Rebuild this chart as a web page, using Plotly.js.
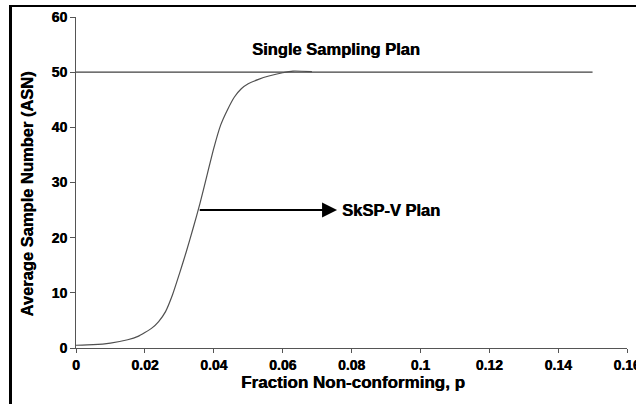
<!DOCTYPE html>
<html>
<head>
<meta charset="utf-8">
<script src="https://cdn.plot.ly/plotly-3.0.1.min.js"></script>
<style>
  html, body { margin: 0; padding: 0; width: 636px; height: 404px; overflow: hidden; background: #fff; }
  #wrap { position: relative; width: 636px; height: 404px; overflow: hidden; }
  #chart { position: absolute; left: 0; top: 0; width: 660px; height: 404px; }
  #frame { position: absolute; left: 9px; top: 5px; width: 700px; height: 420px;
           border-left: 3px solid #000; border-top: 2px solid #000; pointer-events: none; }
</style>
</head>
<body>
<div id="wrap">
  <div id="chart"></div>
  <div id="frame"></div>
</div>
<script>
// Fraction non-conforming p and ASN of the SkSP-V plan
const pValues = [0, 0.005, 0.01, 0.015, 0.018, 0.02, 0.022, 0.024, 0.026, 0.028, 0.03, 0.032,
                 0.034, 0.036, 0.038, 0.04, 0.042, 0.044, 0.046, 0.048, 0.05, 0.053, 0.056,
                 0.06, 0.063, 0.0685];
const asnSkSP = [0.5, 0.6, 0.9, 1.5, 2.1, 2.8, 3.6, 4.8, 6.6, 9.6, 13.4, 17.4,
                 21.7, 26.2, 31.2, 36.2, 40.4, 43.2, 45.5, 47.0, 47.9, 48.7, 49.3,
                 49.9, 50.2, 50.1];
// Single sampling plan ASN (constant)
const singleP = [0, 0.15];
const singleASN = [50, 50];
// Axis ticks
const xTicks = [0, 0.02, 0.04, 0.06, 0.08, 0.1, 0.12, 0.14, 0.16];
const xTickLabels = ['0', '0.02', '0.04', '0.06', '0.08', '0.1', '0.12', '0.14', '0.16'];
const yTicks = [0, 10, 20, 30, 40, 50, 60];
// Labels
const singleLabel = 'Single Sampling Plan';
const skspLabel = 'SkSP-V Plan';
const xTitle = 'Fraction Non-conforming, p';
const yTitle = 'Average Sample Number (ASN)';
// Arrow from curve to label
const arrowFrom = [0.0355, 25];
const arrowTo = [0.0758, 25];

const FONT = '"Liberation Sans", Arial, Helvetica, sans-serif';
const HEAVY = '0.45px 0 0 #000';

function bold(size) {
  return { family: FONT, size: size, weight: 'bold', color: '#000', shadow: HEAVY };
}

const traces = [
  {
    x: singleP, y: singleASN, type: 'scatter', mode: 'lines',
    line: { color: '#404040', width: 1.4 }, hoverinfo: 'skip', showlegend: false
  },
  {
    x: pValues, y: asnSkSP, type: 'scatter', mode: 'lines',
    line: { color: '#505050', width: 1.2, shape: 'spline', smoothing: 0.6 },
    hoverinfo: 'skip', showlegend: false
  }
];

const layout = {
  width: 660, height: 404,
  margin: { l: 76, r: 33, t: 17, b: 56 },
  paper_bgcolor: '#fff', plot_bgcolor: '#fff',
  showlegend: false,
  font: { family: FONT, color: '#000' },
  xaxis: {
    range: [0, 0.16], tickvals: xTicks, ticktext: xTickLabels,
    showgrid: false, zeroline: false, showline: true, linecolor: '#555', linewidth: 1,
    ticks: 'outside', ticklen: 4, tickcolor: '#555', tickwidth: 1,
    tickfont: bold(14),
    fixedrange: true
  },
  yaxis: {
    range: [0, 60], tickvals: yTicks,
    showgrid: false, zeroline: false, showline: true, linecolor: '#555', linewidth: 1,
    ticks: 'outside', ticklen: 5, tickcolor: '#555', tickwidth: 1,
    tickfont: bold(14),
    fixedrange: true
  },
  annotations: [
    {
      x: arrowTo[0], y: arrowTo[1], ax: arrowFrom[0], ay: arrowFrom[1],
      xref: 'x', yref: 'y', axref: 'x', ayref: 'y',
      text: '', showarrow: true, arrowhead: 2, arrowsize: 1.5, arrowwidth: 2,
      arrowcolor: '#000', standoff: 0, startstandoff: 0
    },
    {
      x: 0.0768, y: 25, xref: 'x', yref: 'y', xanchor: 'left', yanchor: 'middle',
      text: skspLabel, showarrow: false, font: bold(16.5)
    },
    {
      x: 0.0754, y: 54.25, xref: 'x', yref: 'y', xanchor: 'center', yanchor: 'middle',
      text: singleLabel, showarrow: false, font: bold(16.5)
    },
    {
      x: 0.503, y: -0.104, xref: 'paper', yref: 'paper', xanchor: 'center', yanchor: 'middle',
      text: xTitle, showarrow: false, font: bold(17)
    },
    {
      x: -0.088, y: 0.465, xref: 'paper', yref: 'paper', xanchor: 'center', yanchor: 'middle',
      text: yTitle, showarrow: false, textangle: -90, font: bold(16.5)
    }
  ]
};

Plotly.newPlot('chart', traces, layout, { displayModeBar: false, staticPlot: true });
</script>
</body>
</html>
